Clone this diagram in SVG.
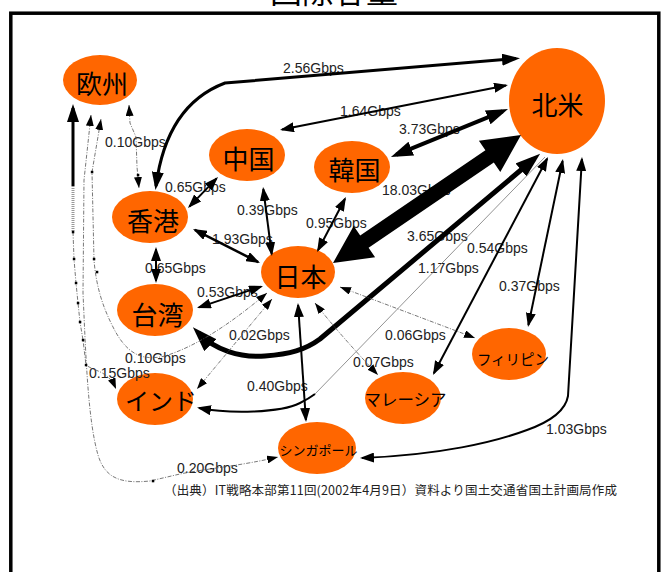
<svg xmlns="http://www.w3.org/2000/svg" width="662" height="572" viewBox="0 0 662 572">
  <style>
    .node ellipse { fill: #FF6600; }
    .node text { font-family: "Noto Sans CJK JP", sans-serif; fill: #000; text-anchor: middle; }
    .lbl { font-family: "Liberation Sans", Arial, sans-serif; font-size: 14px; fill: #222; }
    .src { font-family: "Noto Sans CJK JP", sans-serif; font-size: 12.5px; fill: #222; }
    .ln { fill: none; stroke: #000; stroke-linejoin: round; }
    .dash { fill: none; stroke: #555; stroke-width: 0.8; stroke-dasharray: 4 1.5 1 1.5; }
    .hair { fill: none; stroke: #777; stroke-width: 0.8; }
    .pt { fill: #000; }
  </style>
  <defs>
    <marker id="ah" viewBox="0 0 14 10" markerWidth="14" markerHeight="10" refX="12" refY="5" orient="auto-start-reverse" markerUnits="userSpaceOnUse">
      <path d="M0,0 L14,5 L0,10 z"/>
    </marker>
    <marker id="ahm" viewBox="0 0 18 12" markerWidth="18" markerHeight="12" refX="14" refY="6" orient="auto-start-reverse" markerUnits="userSpaceOnUse">
      <path d="M0,0 L18,6 L0,12 z"/>
    </marker>
    <marker id="ahl" viewBox="0 0 22 15" markerWidth="22" markerHeight="15" refX="16" refY="7.5" orient="auto-start-reverse" markerUnits="userSpaceOnUse">
      <path d="M0,0 L22,7.5 L0,15 z"/>
    </marker>
    <marker id="ahx" viewBox="0 0 25 17" markerWidth="25" markerHeight="17" refX="17" refY="8.5" orient="auto-start-reverse" markerUnits="userSpaceOnUse">
      <path d="M0,0 L25,8.5 L0,17 z"/>
    </marker>
    <marker id="ahd" viewBox="0 0 11 8" markerWidth="11" markerHeight="8" refX="11" refY="4" orient="auto-start-reverse" markerUnits="userSpaceOnUse">
      <path d="M0,0 L11,4 L0,8 z"/>
    </marker>
  </defs>

  <rect width="662" height="572" fill="#fff"/>

  <!-- title, clipped by the top edge -->
  <text x="334" y="3" font-family="Noto Sans CJK JP, sans-serif" font-size="32" text-anchor="middle" fill="#000">国際容量</text>

  <!-- outer frame -->
  <rect x="10.8" y="13.2" width="648" height="600" fill="none" stroke="#000" stroke-width="3.5"/>

  <!-- regions -->
  <g id="n-eu" class="node"><ellipse cx="100" cy="80" rx="37" ry="25"/><text x="102" y="94" font-size="26">欧州</text></g>
  <g id="n-na" class="node"><ellipse cx="557" cy="101" rx="48" ry="53"/><text x="557.5" y="115.4" font-size="26">北米</text></g>
  <g id="n-cn" class="node"><ellipse cx="247" cy="155" rx="38" ry="26"/><text x="248.5" y="169.4" font-size="26">中国</text></g>
  <g id="n-kr" class="node"><ellipse cx="352" cy="167" rx="38" ry="26"/><text x="354.5" y="180.4" font-size="26">韓国</text></g>
  <g id="n-hk" class="node"><ellipse cx="150" cy="217" rx="38" ry="26"/><text x="153" y="231.4" font-size="26">香港</text></g>
  <g id="n-jp" class="node"><ellipse cx="298" cy="272" rx="37" ry="26"/><text x="300.5" y="287.4" font-size="26">日本</text></g>
  <g id="n-tw" class="node"><ellipse cx="155" cy="310" rx="38" ry="26"/><text x="157.5" y="324.9" font-size="26">台湾</text></g>
  <g id="n-in" class="node"><ellipse cx="155" cy="399" rx="38" ry="26"/><text x="161" y="409.6" font-size="24">インド</text></g>
  <g id="n-sg" class="node"><ellipse cx="317" cy="448" rx="39" ry="26"/><text x="318.5" y="455" font-size="13">シンガポール</text></g>
  <g id="n-my" class="node"><ellipse cx="403" cy="398" rx="38" ry="26"/><text x="405.5" y="406.3" font-size="16.5">マレーシア</text></g>
  <g id="n-ph" class="node"><ellipse cx="509" cy="354" rx="37" ry="26"/><text x="513" y="365" font-size="14.5">フィリピン</text></g>

  <!-- bandwidth labels -->
  <g id="labels" class="lbl">
    <text x="283" y="73">2.56Gbps</text>
    <text x="340" y="116">1.64Gbps</text>
    <text x="399" y="134">3.73Gbps</text>
    <text x="382" y="195">18.03Gbps</text>
    <text x="105" y="147">0.10Gbps</text>
    <text x="165" y="192">0.65Gbps</text>
    <text x="237" y="215">0.39Gbps</text>
    <text x="306" y="228">0.95Gbps</text>
    <text x="212" y="244">1.93Gbps</text>
    <text x="145" y="273">0.65Gbps</text>
    <text x="407" y="241">3.65Gbps</text>
    <text x="467" y="253">0.54Gbps</text>
    <text x="418" y="273">1.17Gbps</text>
    <text x="499" y="291">0.37Gbps</text>
    <text x="197" y="297">0.53Gbps</text>
    <text x="229" y="340">0.02Gbps</text>
    <text x="385" y="340">0.06Gbps</text>
    <text x="125" y="363">0.10Gbps</text>
    <text x="353" y="367">0.07Gbps</text>
    <text x="89" y="378">0.15Gbps</text>
    <text x="247" y="391">0.40Gbps</text>
    <text x="546" y="434">1.03Gbps</text>
    <text x="177" y="473">0.20Gbps</text>
  </g>

  <text class="src" x="164" y="495" textLength="453" lengthAdjust="spacing">（出典）IT戦略本部第11回(2002年4月9日）資料より国土交通省国土計画局作成</text>

  <!-- links -->
  <g id="connectors">
    <!-- Japan - North America trunk -->
    <polygon points="333,263 375.1,257.3 368.6,247.8 493.8,162.6 500.3,172.1 521,135 478.9,140.7 485.4,150.2 360.2,235.4 353.7,225.9" fill="#000"/>

    <path class="ln" d="M156,186 C162,140 180,100 225,83 L516,58.5" stroke-width="3" marker-start="url(#ahm)" marker-end="url(#ahm)"/>
    <path class="ln" d="M282,129.6 L506,85.4" stroke-width="2" marker-start="url(#ah)" marker-end="url(#ah)"/>
    <path class="ln" d="M396.5,154.7 L502.5,111.3" stroke-width="4" marker-start="url(#ahl)" marker-end="url(#ahl)"/>
    <path class="ln" d="M198.5,333 C215,350 240,358 265,356 C290,354 305,350 320,339 L534,159" stroke-width="5" marker-start="url(#ahx)" marker-end="url(#ahx)"/>
    <path class="ln" d="M199,408 C230,414 280,413 300,403 C306,400 311,397 315,394" stroke-width="2" marker-start="url(#ah)"/>
    <path class="hair" d="M315,394 L545,157"/>
    <path class="ln" d="M433.9,373.2 L547.1,158.8" stroke-width="2" marker-start="url(#ah)" marker-end="url(#ah)"/>
    <path class="ln" d="M528.4,325 L562.6,161" stroke-width="2" marker-start="url(#ah)" marker-end="url(#ah)"/>
    <path class="ln" d="M581.9,159 L568,396 C566,408 555,420 527,430 C495,442 440,455 362,458" stroke-width="2" marker-start="url(#ah)" marker-end="url(#ah)"/>

    <!-- intra-Asia links -->
    <path class="ln" d="M263.3,189 L271.7,254" stroke-width="2" marker-start="url(#ah)" marker-end="url(#ah)"/>
    <path class="ln" d="M345,198.8 L318,250.2" stroke-width="2" marker-start="url(#ah)" marker-end="url(#ah)"/>
    <path class="ln" d="M194.8,229.9 L258.2,262.1" stroke-width="2.5" marker-start="url(#ah)" marker-end="url(#ah)"/>
    <path class="ln" d="M189.4,206.6 L216.6,178.4" stroke-width="2" marker-start="url(#ah)" marker-end="url(#ah)"/>
    <path class="ln" d="M156,249 L156,281" stroke-width="2" marker-start="url(#ah)" marker-end="url(#ah)"/>
    <path class="ln" d="M198.9,307.4 L261.1,286.6" stroke-width="2" marker-start="url(#ah)" marker-end="url(#ah)"/>
    <path class="ln" d="M298.1,305 L305.9,420" stroke-width="2" marker-start="url(#ah)" marker-end="url(#ah)"/>

    <!-- low-capacity links -->
    <path class="dash" d="M340,287 L475,338" marker-start="url(#ahd)" marker-end="url(#ahd)"/>
    <path class="dash" d="M315,303 Q340,335 378,375" marker-start="url(#ahd)" marker-end="url(#ahd)"/>
    <path class="dash" d="M272,299 L197,389" marker-start="url(#ahd)" marker-end="url(#ahd)"/>
    <path class="dash" d="M267,293 C235,320 200,345 165,356 C140,362 125,352 112,325 C102,305 96,285 94,260 L92,172 L101,119" marker-start="url(#ahd)" marker-end="url(#ahd)"/>
    <path class="dash" d="M129,105 L130,123 L136,137 L137,167 L139,188" marker-start="url(#ahd)" marker-end="url(#ahd)"/>

    <!-- Europe - India -->
    <path class="ln" d="M73,108 L73,186" stroke-width="3" marker-start="url(#ahm)"/>
    <path d="M73,186 L73,232" fill="none" stroke="#999" stroke-width="3" stroke-dasharray="1 1"/>
    <path class="dash" d="M73,232 L74,259 L76,283 L78,303 L80,322 L83,340 L86,365 C95,372 108,370 116,389" marker-end="url(#ahd)"/>

    <!-- Europe - Singapore -->
    <path class="dash" d="M91,115 L84,180 L83,293 C86,360 88,420 98,455 C105,478 120,484 150,481 L180,474 C210,468 240,466 278,457" marker-start="url(#ahd)" marker-end="url(#ahd)"/>

    <!-- polyline handle points -->
    <rect class="pt" x="71.8" y="230.8" width="2.5" height="2.5"/>
    <rect class="pt" x="72.8" y="257.8" width="2.5" height="2.5"/>
    <rect class="pt" x="74.8" y="281.8" width="2.5" height="2.5"/>
    <rect class="pt" x="76.8" y="301.8" width="2.5" height="2.5"/>
    <rect class="pt" x="78.8" y="320.8" width="2.5" height="2.5"/>
    <rect class="pt" x="81.8" y="338.8" width="2.5" height="2.5"/>
    <rect class="pt" x="84.8" y="363.8" width="2.5" height="2.5"/>
    <rect class="pt" x="90.8" y="170.8" width="2.5" height="2.5"/>
    <rect class="pt" x="92.8" y="257.8" width="2.5" height="2.5"/>
    <rect class="pt" x="95.8" y="270.8" width="2.5" height="2.5"/>
    <rect class="pt" x="136.8" y="173.8" width="2.5" height="2.5"/>
    <rect class="pt" x="151.8" y="479.8" width="2.5" height="2.5"/>
  </g>
</svg>
